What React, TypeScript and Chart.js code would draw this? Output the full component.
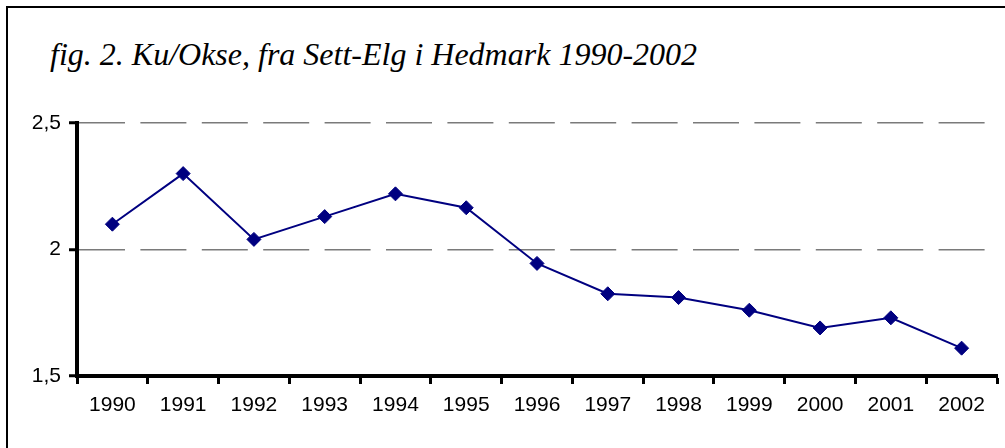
import React, { useEffect, useRef } from "react";
import { Chart, registerables } from "chart.js";

Chart.register(...registerables);

const years = ["1990", "1991", "1992", "1993", "1994", "1995", "1996", "1997", "1998", "1999", "2000", "2001", "2002"];
const kuPerOkse = [2.1, 2.3, 2.04, 2.13, 2.22, 2.165, 1.945, 1.825, 1.81, 1.76, 1.69, 1.73, 1.61];
const yTicks = [1.5, 2, 2.5];
const titleText = "fig. 2. Ku/Okse, fra Sett-Elg i Hedmark 1990-2002";

const tickFont = { family: "'Liberation Sans', Arial, sans-serif", size: 21 };

export default function App() {
  const canvasRef = useRef<HTMLCanvasElement | null>(null);

  useEffect(() => {
    const canvas = canvasRef.current;
    if (!canvas) return;
    const chart = new Chart(canvas, {
      type: "line",
      data: {
        labels: years,
        datasets: [
          {
            data: kuPerOkse,
            borderColor: "#000080",
            backgroundColor: "#000080",
            borderWidth: 2,
            tension: 0,
            pointStyle: "rectRot",
            pointRadius: 7,
            pointBorderWidth: 1,
            pointBackgroundColor: "#000080",
            pointBorderColor: "#000080",
            fill: false,
          },
        ],
      },
      options: {
        responsive: false,
        animation: false,
        devicePixelRatio: 1,
        layout: { padding: { top: 123, right: 8, left: 0, bottom: 0 } },
        plugins: {
          legend: { display: false },
          title: { display: false },
          tooltip: { enabled: false },
        },
        scales: {
          x: {
            type: "category",
            offset: true,
            grid: {
              display: true,
              drawOnChartArea: false,
              drawTicks: true,
              tickLength: 8,
              tickColor: "#000",
              tickWidth: 3,
              offset: true,
            },
            border: { display: true, color: "#000", width: 4 },
            ticks: {
              color: "#000",
              font: tickFont,
              padding: 9,
              maxRotation: 0,
              autoSkip: false,
            },
            afterFit: (s: any) => {
              s.height = 72;
            },
          },
          y: {
            min: 1.5,
            max: 2.5,
            afterBuildTicks: (s: any) => {
              s.ticks = yTicks.map((v) => ({ value: v }));
            },
            grid: {
              color: (ctx: any) =>
                ctx.tick && ctx.tick.value === 1.5 ? "rgba(0,0,0,0)" : "#7a7a7a",
              lineWidth: 1.5,
              drawTicks: true,
              tickLength: 8,
              tickColor: "#000",
              tickWidth: 3,
            },
            border: { display: true, color: "#000", width: 4, dash: [46, 15.4] },
            ticks: {
              color: "#000",
              font: tickFont,
              padding: 8,
              callback: (v: any) => String(v).replace(".", ","),
            },
            afterFit: (s: any) => {
              s.width = 77;
            },
          },
        },
      },
    });
    return () => chart.destroy();
  }, []);

  return (
    <div
      style={{
        position: "absolute",
        left: 0,
        top: 0,
        width: 1005,
        height: 448,
        overflow: "hidden",
        background: "#fff",
      }}
    >
      <div
        style={{
          position: "absolute",
          left: 6,
          top: 6,
          width: 1100,
          height: 600,
          border: "2px solid #000",
        }}
      />
      <div
        style={{
          position: "absolute",
          left: 50,
          top: 38,
          fontFamily: "'Liberation Serif', 'Times New Roman', serif",
          fontStyle: "italic",
          fontSize: 32,
          lineHeight: "32px",
          whiteSpace: "nowrap",
          color: "#000",
        }}
      >
        {titleText}
      </div>
      <canvas
        ref={canvasRef}
        width={1005}
        height={448}
        style={{ position: "absolute", left: 0, top: 0, width: 1005, height: 448 }}
      />
    </div>
  );
}
